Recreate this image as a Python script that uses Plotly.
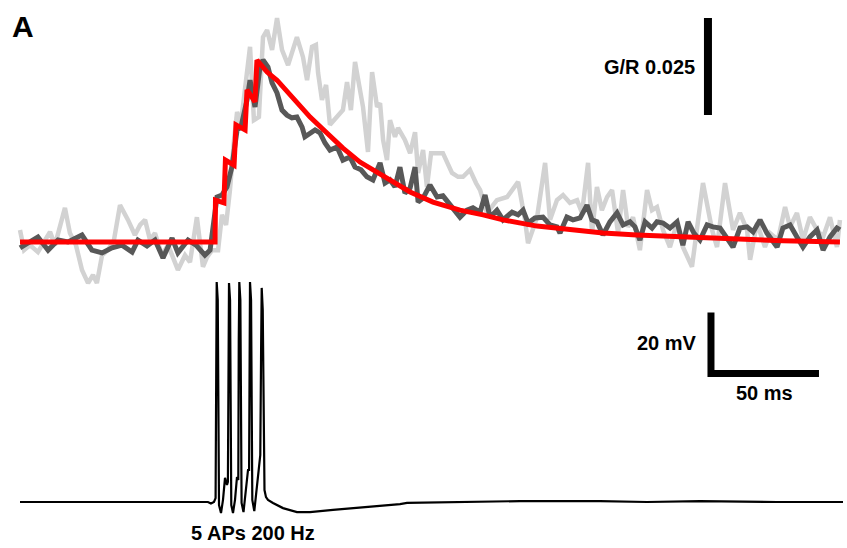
import plotly.graph_objects as go

# ---------------- data ----------------
# light grey trace: time (ms), dG/R (x1e-3)
light_t = [0.0, 1.9, 4.6, 8.3, 11.6, 13.9, 16.2, 18.5, 20.8, 23.1, 25.9, 28.7, 31.5, 33.8, 35.6, 38.0, 40.7, 43.5,
           46.3, 50.0, 53.2, 55.6, 57.9, 60.2, 62.5, 65.7, 68.5, 70.4, 73.1, 76.4, 78.7, 81.9, 84.7, 86.6, 88.9,
           91.7, 93.5, 95.4, 97.2, 99.1, 100.5, 102.3, 104.2, 106.5, 108.3, 110.6, 112.5, 114.4, 116.7, 119.0,
           121.3, 124.1, 128.2, 131.0, 132.9, 135.2, 137.0, 138.0, 139.8, 141.7, 143.5, 146.3, 149.5, 151.4,
           153.2, 155.1, 157.4, 158.8, 161.1, 163.0, 165.3, 166.7, 168.1, 169.9, 171.3, 173.6, 175.0, 178.2,
           180.6, 182.9, 184.3, 186.6, 188.4, 190.3, 193.1, 195.8, 200.0, 202.8, 205.1, 208.3, 211.1, 213.0,
           216.2, 220.8, 225.5, 230.6, 233.8, 235.2, 239.4, 243.1, 245.4, 248.6, 251.4, 254.6, 257.9, 260.2,
           263.0, 264.8, 267.1, 269.4, 271.8, 274.1, 276.9, 279.2, 281.5, 283.8, 287.0, 290.3, 292.6, 294.9,
           297.7, 300.9, 304.2, 306.9, 311.1, 313.4, 316.2, 320.4, 322.7, 326.4, 330.1, 333.3, 336.6, 338.0,
           341.2, 344.9, 347.2, 350.9, 354.2, 356.5, 359.7, 362.5, 365.7, 369.0, 371.8, 375.0, 378.2, 379.6]
light_v = [3.1, -2.1, -0.8, -2.6, 0.5, 2.6, -0.8, 4.4, 8.8, 2.3, -0.8, -7.2, -10.6, -8.5, -10.6, -3.4, -2.1, 0.5,
           9.5, 5.7, 1.8, 4.4, 5.7, 0.5, 2.3, -3.4, -0.8, -3.4, -7.2, -3.4, -5.2, 6.4, -6.4, -3.9, -2.1,
           -2.1, 7.0, 4.4, 13.4, 26.3, 33.5, 30.7, 39.2, 50.3, 31.4, 32.2, 52.8, 54.6, 49.5, 57.7,
           49.5, 45.6, 52.8, 47.7, 41.7, 50.3, 50.8, 43.6, 36.6, 40.5, 30.2, 32.0, 34.0, 41.2,
           34.0, 46.4, 38.4, 34.8, 23.2, 43.8, 34.8, 35.8, 26.3, 21.1, 31.4, 27.1, 29.4, 26.3,
           22.9, 28.3, 17.8, 23.7, 14.2, 22.9, 22.9, 22.9, 17.8, 16.8, 16.8, 18.6, 15.2, 13.4,
           7.5, 10.8, 11.6, 15.5, 5.7, -0.3, 6.4, 20.4, 5.7, 10.8, 12.1, 10.1, 10.8, 7.5,
           20.4, 2.3, 14.2, 8.2, 11.6, 13.4, 2.3, 13.4, 3.9, 6.4, -2.1, 13.4, 8.2, 9.0,
           3.1, -1.3, 4.9, -1.3, -6.4, 3.1, 15.2, 3.1, -1.3, 15.2, 3.1, 7.5, 3.1, -4.6,
           4.9, -1.3, 2.3, 0.5, 9.0, 3.9, 7.5, 0.5, 6.4, 3.1, 1.3, 6.4, -1.3, 5.7]

# dark grey trace: time (ms), dG/R (x1e-3)
dark_t = [0.0, 3.7, 8.3, 13.0, 17.6, 22.2, 28.7, 33.3, 38.0, 42.6, 47.2, 51.9, 54.6, 58.8, 62.5, 66.2, 70.4, 73.1,
          77.8, 81.5, 85.6, 88.0, 89.4, 91.2, 93.5, 95.8, 98.1, 100.5, 102.3, 105.1, 106.5, 108.8, 111.1, 112.5,
          114.8, 116.7, 119.0, 121.3, 123.6, 125.9, 128.2, 130.6, 131.9, 134.3, 136.6, 138.9, 141.2, 143.5,
          146.8, 149.5, 152.8, 155.1, 157.9, 160.6, 163.4, 166.7, 169.0, 171.3, 173.6, 175.9, 178.2, 180.6,
          182.9, 184.3, 186.6, 189.8, 193.1, 195.8, 198.1, 201.4, 203.7, 206.9, 209.7, 213.0, 215.3, 217.6,
          220.8, 223.6, 227.8, 230.6, 232.9, 235.2, 238.4, 242.1, 245.4, 248.6, 250.0, 253.2, 256.0, 259.3,
          262.5, 264.8, 267.1, 269.9, 273.1, 276.4, 279.2, 282.4, 284.7, 287.0, 289.4, 292.6, 294.9, 297.7,
          300.9, 304.2, 306.9, 309.3, 312.0, 314.8, 318.1, 320.8, 324.1, 327.3, 330.1, 333.3, 336.6, 339.4,
          342.6, 345.8, 350.5, 353.2, 356.5, 359.7, 362.5, 365.7, 369.0, 371.8, 375.0, 378.2, 379.6]
dark_v = [-1.5, -0.3, 1.3, -2.1, 0.5, 0.0, 1.8, -2.1, -2.8, -1.5, -0.8, -2.6, 0.5, -1.0, 0.5, -4.1, 1.0, -2.8,
          0.5, -0.8, -3.4, -2.1, 3.9, 11.6, 12.1, 14.2, 19.3, 28.9, 29.6, 36.6, 41.7, 34.8, 45.1, 46.9,
          45.1, 41.0, 38.4, 34.0, 32.7, 32.0, 32.2, 29.6, 27.1, 28.1, 28.9, 28.1, 25.5, 23.7,
          24.5, 21.1, 21.9, 19.3, 18.6, 16.8, 16.0, 20.4, 15.2, 16.0, 14.2, 19.3, 12.6, 13.9,
          19.3, 10.3, 11.3, 14.7, 11.6, 11.9, 10.3, 8.2, 6.4, 8.2, 8.8, 7.7, 12.1, 6.4,
          8.2, 5.7, 7.7, 7.0, 8.2, 4.9, 6.2, 6.4, 4.4, 3.9, 2.3, 6.4, 5.7, 6.2,
          9.5, 5.7, 5.2, 1.8, 5.2, 7.5, 4.4, 5.2, 3.9, 0.5, 5.2, 3.6, 5.2, 4.9,
          3.6, 5.2, -0.8, 5.2, 2.3, 0.5, 4.4, 3.9, 3.6, 1.0, -1.3, 3.6, 3.9, 2.6,
          5.7, 2.3, -1.3, 3.6, 4.4, 1.3, -1.3, 1.3, 3.1, -2.1, 1.3, 3.6, 3.1]

# red fit: time (ms), dG/R (x1e-3)
fit_t = [0.0, 90.3, 90.5, 94.4, 95.1, 99.1, 100.0, 104.2, 105.1, 108.8, 109.7, 114.4, 119.0, 126.4, 134.3,
         142.1, 149.5, 157.4, 165.3, 172.7, 180.6, 191.2, 203.7, 214.4, 223.6, 239.4, 254.6, 269.9, 285.6,
         305.6, 322.7, 353.2, 379.6]
fit_v = [0.0, 0.0, 10.8, 10.1, 21.1, 19.8, 30.2, 28.9, 39.2, 36.1, 46.9, 43.8, 41.7, 37.1, 32.2,
         28.1, 24.2, 20.6, 18.0, 15.2, 12.9, 10.3, 8.2, 7.0, 5.7, 4.1, 3.1, 2.3, 1.8,
         1.3, 1.0, 0.3, 0.0]

# membrane potential: time (ms), Vm (mV)
vm_t = [0.0, 60.2, 87.0, 88.4, 89.81, 90.55, 90.78, 91.06, 91.55, 91.85, 92.13, 93.06, 93.98, 94.91, 95.83,
        96.25, 96.50, 96.76, 97.25, 97.55, 97.82, 98.61, 99.54, 100.46, 101.06, 101.28, 101.53, 102.02,
        102.32, 102.59, 103.47, 104.40, 105.56, 106.06, 106.23, 106.48, 106.97, 107.27, 107.55, 108.47,
        109.49, 110.65, 111.24, 111.62, 111.90, 112.38, 112.78, 113.19, 113.89, 114.81, 117.13, 121.76,
        128.24, 134.26, 144.91, 156.02, 168.06, 175.93, 179.17, 205.09, 231.48, 268.52, 290.28, 314.81,
        350.46, 381.02]
vm_v = [-70.0, -70.0, -70.0, -70.5, -70.0, -68.7, -28.4, 2.1, -3.8, -53.0, -71.0, -73.6, -69.3, -62.1, -64.4,
        -63.4, -23.4, 1.8, -3.8, -53.0, -71.0, -73.6, -69.3, -61.8, -62.8, -16.9, 2.1, -3.8,
        -53.0, -70.3, -73.3, -67.7, -59.5, -59.5, -20.2, 2.1, -3.8, -53.0, -69.3, -73.0,
        -66.1, -57.9, -54.6, -20.2, 0.2, -7.0, -53.0, -66.1, -68.4, -69.3, -70.3, -72.0,
        -73.3, -73.3, -72.6, -72.0, -71.3, -70.7, -70.3, -70.0, -69.7, -69.7, -70.0, -69.7,
        -70.0, -70.0]

# scale bars
gr_bar_t = 318.5
gr_bar_base = 0.0327
gr_bar_len = 0.025
vm_bar_t = 319.9
vm_bar_base = -27.87
vm_bar_len = 20.0
t_bar_len = 50.0

FONT = "Liberation Sans, Arial, sans-serif"

fig = go.Figure()
fig.add_trace(go.Scatter(x=light_t, y=[v * 1e-3 for v in light_v], mode="lines",
                         line=dict(color="#d2d2d2", width=4.5), xaxis="x", yaxis="y", hoverinfo="skip"))
fig.add_trace(go.Scatter(x=dark_t, y=[v * 1e-3 for v in dark_v], mode="lines",
                         line=dict(color="#585858", width=5), xaxis="x", yaxis="y", hoverinfo="skip"))
fig.add_trace(go.Scatter(x=fit_t, y=[v * 1e-3 for v in fit_v], mode="lines",
                         line=dict(color="#ff0000", width=5), xaxis="x", yaxis="y", hoverinfo="skip"))
fig.add_trace(go.Scatter(x=vm_t, y=vm_v, mode="lines",
                         line=dict(color="#000000", width=2.2), xaxis="x", yaxis="y2", hoverinfo="skip"))

shapes = [
    dict(type="line", xref="x", yref="y", x0=gr_bar_t, x1=gr_bar_t,
         y0=gr_bar_base, y1=gr_bar_base + gr_bar_len, line=dict(color="black", width=8)),
    dict(type="path", xref="x", yref="y2",
         path=f"M {vm_bar_t},{vm_bar_base + vm_bar_len} L {vm_bar_t},{vm_bar_base} L {vm_bar_t + t_bar_len},{vm_bar_base}",
         line=dict(color="black", width=7)),
]

W, H = 847, 548
def ann(text, px, py, size, xanchor="center"):
    return dict(text=f"<b>{text}</b>", x=px / W, y=1 - py / H, xref="paper", yref="paper",
                xanchor=xanchor, yanchor="middle", showarrow=False,
                font=dict(family=FONT, size=size, color="black"))

annotations = [
    ann("A", 22.5, 27, 30),
    ann("G/R 0.025", 697, 67, 20, "right"),
    ann("20 mV", 699, 343, 20, "right"),
    ann("50 ms", 764, 393, 20),
    ann("5 APs 200 Hz", 253, 533, 20),
]

top_split = 1 - 292 / H   # bottom edge of upper panel
bot_top = 1 - 262 / H     # top edge of lower panel (overlaps so spikes are not clipped)
fig.update_layout(
    width=W, height=H, margin=dict(l=0, r=0, t=0, b=0),
    paper_bgcolor="white", plot_bgcolor="rgba(0,0,0,0)", showlegend=False,
    xaxis=dict(range=[-20 / 2.16, 827 / 2.16], visible=False, domain=[0, 1]),
    yaxis=dict(range=[-50 / 3880, 242 / 3880], visible=False, domain=[top_split, 1]),
    yaxis2=dict(range=[-70 - 46 / 3.05, -70 + 240 / 3.05], visible=False, domain=[0, bot_top]),
    shapes=shapes, annotations=annotations,
)

fig.write_html("out.html", config={"displayModeBar": False, "staticPlot": True},
               post_script="document.body.style.margin='0';document.body.style.overflow='hidden';")
